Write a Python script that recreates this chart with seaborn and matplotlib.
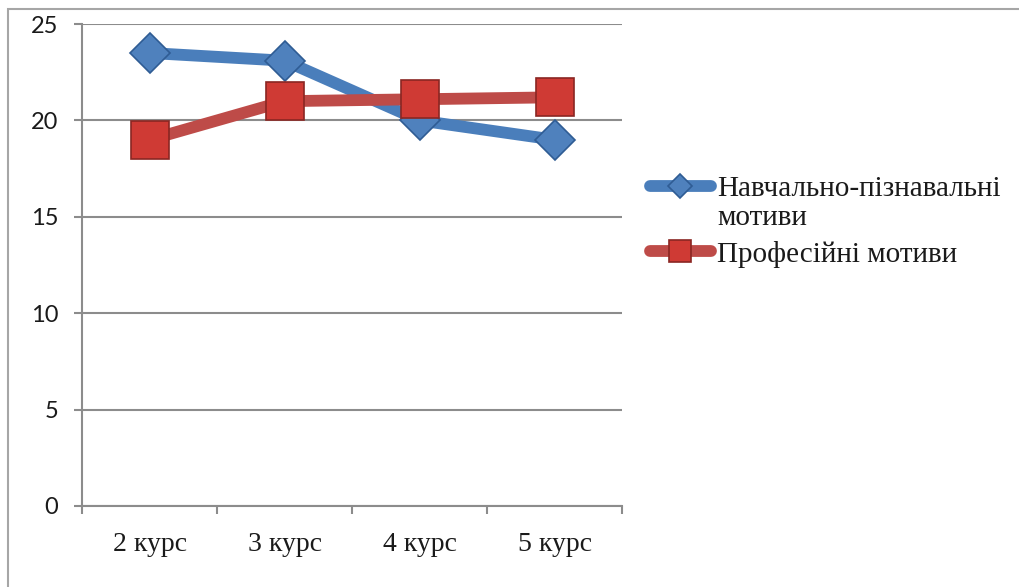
import matplotlib
matplotlib.use('Agg')
import matplotlib.pyplot as plt
import seaborn as sns
from matplotlib.patches import Rectangle
from matplotlib.ticker import FixedLocator

courses = ['2 курс', '3 курс', '4 курс', '5 курс']
learning = [23.5, 23.1, 20.0, 19.0]
professional = [19.0, 21.0, 21.1, 21.2]
label_learning = 'Навчально-пізнавальні'
label_learning_2 = 'мотиви'
label_prof = 'Професійні мотиви'
yticks = [0, 5, 10, 15, 20, 25]

sns.set_style('white')
plt.rcParams['font.family'] = ['Liberation Serif', 'DejaVu Serif']

fig = plt.figure(figsize=(10.19, 5.87), dpi=100)
ax = fig.add_axes([0.0805, 0.138, 0.5299, 0.821])

# рамка всієї діаграми
fig.patches.append(Rectangle((0.0079, -0.02), 1.1, 1.0047, transform=fig.transFigure,
                             fill=False, edgecolor='#a6a6a6', linewidth=1.5))

sns.lineplot(x=courses, y=learning, ax=ax, color='#4a7ebb', linewidth=8.5,
             marker='D', markersize=20, markerfacecolor='#4f81bd',
             markeredgecolor='#2f5c94', markeredgewidth=1.2,
             label=label_learning, zorder=3)
sns.lineplot(x=courses, y=professional, ax=ax, color='#be4b48', linewidth=8.5,
             marker='s', markersize=27, markerfacecolor='#cf3a34',
             markeredgecolor='#8a2622', markeredgewidth=1.2,
             label=label_prof, zorder=4)

ax.set_xlim(-0.5, 3.5)
ax.set_ylim(0, 25)
ax.set_yticks(yticks)
ax.grid(axis='y', color='#8c8c8c', linewidth=1.5)
ax.set_axisbelow(True)
for s in ['top', 'right']:
    ax.spines[s].set_visible(False)
for s in ['left', 'bottom']:
    ax.spines[s].set_color('#8c8c8c')
    ax.spines[s].set_linewidth(1.5)

ax.xaxis.set_minor_locator(FixedLocator([-0.5, 0.5, 1.5, 2.5, 3.5]))
ax.tick_params(axis='x', which='major', length=0, pad=19, labelsize=20,
               labelcolor='#1a1a1a')
ax.tick_params(axis='x', which='minor', length=6, width=1.5, color='#8c8c8c',
               direction='out', bottom=True)
ax.tick_params(axis='y', length=6, width=1.5, color='#8c8c8c', left=True,
               direction='out', pad=11, labelcolor='#1a1a1a')
for t in ax.get_yticklabels():
    t.set_fontfamily('Lato')
    t.set_fontsize(17)
ax.set_xlabel('')
ax.set_ylabel('')

leg = ax.legend(loc='upper left', bbox_to_anchor=(1.03, 0.71), frameon=False,
                fontsize=21, handlelength=2.1, handletextpad=0.2,
                labelspacing=1.33, markerscale=0.6, borderaxespad=0)
for t in leg.get_texts():
    t.set_color('#1a1a1a')

fig.canvas.draw()
bb = leg.get_texts()[0].get_window_extent()
x0, y0 = fig.transFigure.inverted().transform((bb.x0, bb.y0))
fig.text(x0, y0 - 0.005, label_learning_2, fontsize=21, color='#1a1a1a',
         va='top', ha='left')

plt.savefig('out.png', dpi=100)
